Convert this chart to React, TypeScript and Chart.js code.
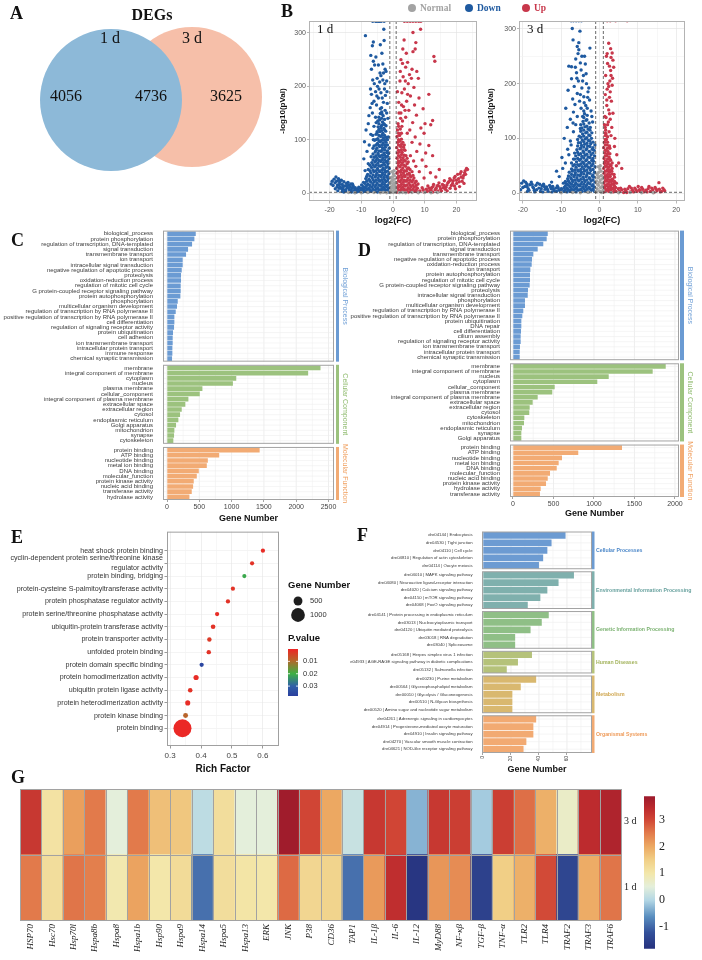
import React, { useEffect, useRef } from "react";
import { Chart, registerables } from "chart.js";

Chart.register(...registerables);

const SANS = '"Liberation Sans", Arial, Helvetica, sans-serif';
const SERIF = '"Liberation Serif", "Times New Roman", Times, serif';
Chart.defaults.font.family = SANS;

/* ======================= DATA ======================= */
// A – Venn
const vennSets = ["1 d", "3 d"];
const vennCounts = [4056, 4736, 3625]; // only 1 d, shared, only 3 d

// B – volcano plots  [log2(FC), -log10(pVal)]
const volcanoClasses = ["Normal", "Down", "Up"];
const volcanoDays = ["1 d", "3 d"];
const fcCut = 1;
const pCut = 0.05;

const v1Normal = [[-0.9,2],[-0.6,6],[-0.3,10],[0,3],[0.3,8],[0.6,14],[0.9,4],[-0.8,18],[-0.4,22],[0.2,18],[0.5,26],[-0.2,30],[0.1,36],[-0.6,28],[0.8,20],[0.4,33],[-0.5,12],[0.7,9],[0,14],[-0.1,24],[-10,0.5],[-8,1],[-6,0.8],[-4,0.4],[-3,1.1],[-2,0.6],[2,0.7],[3,1],[4,0.3],[6,0.9],[8,0.5],[10,1],[12,0.4],[-12,0.6],[0.3,42],[-0.3,40],[0.6,2],[-0.7,1],[0.1,1],[14,0.8],[-14,0.9]];
const v1Down = [
  [-1.3,2],[-1.4,9],[-1.2,18],[-1.5,27],[-1.3,36],[-1.2,46],[-1.6,55],[-1.3,64],[-1.4,74],[-1.2,84],
  [-2.2,4],[-2.1,12],[-2.3,21],[-2,30],[-2.4,39],[-2.2,48],[-2.1,58],[-2.3,67],[-2,76],[-2.4,86],[-2.2,95],[-2.1,104],[-2.3,116],[-2.2,126],
  [-3.1,3],[-3,11],[-3.2,20],[-2.9,29],[-3.3,38],[-3.1,47],[-3,57],[-3.2,66],[-2.9,75],[-3.3,85],[-3.1,94],[-3,103],[-3.2,112],[-2.9,121],[-3.3,133],[-3.1,145],
  [-4,5],[-3.9,13],[-4.1,22],[-3.8,31],[-4.2,40],[-4,50],[-3.9,59],[-4.1,68],[-3.8,78],[-4.2,87],[-4,96],[-3.9,106],[-4.1,115],[-3.8,125],[-4.2,137],[-4,149],
  [-4.9,2],[-4.8,10],[-5,19],[-4.7,28],[-5.1,37],[-4.9,46],[-4.8,56],[-5,65],[-4.7,74],[-5.1,84],[-4.9,93],[-4.8,102],[-5,113],[-4.7,124],
  [-5.8,4],[-5.7,12],[-5.9,21],[-5.6,30],[-6,40],[-5.8,49],[-5.7,58],[-5.9,67],[-5.6,77],[-6,88],[-5.8,99],
  [-6.8,3],[-6.7,11],[-6.9,20],[-6.6,29],[-7,38],[-6.8,48],[-6.7,57],[-6.9,68],
  [-7.8,2],[-7.7,9],[-7.9,17],[-7.6,26],[-8,35],[-7.8,44],[-8.8,3],[-8.7,10],[-8.9,18],[-8.6,27],[-9.8,2],[-9.7,8],[-9.9,15],
  [-1.75,6],[-1.75,14],[-1.75,23],[-1.75,32],[-1.75,41],[-1.75,50],[-1.75,60],[-1.75,69],[-1.75,79],[-1.75,90],[-1.75,100],
  [-2.65,7],[-2.65,16],[-2.65,25],[-2.65,34],[-2.65,43],[-2.65,53],[-2.65,62],[-2.65,71],[-2.65,81],[-2.65,90],[-2.65,99],[-2.65,108],[-2.65,118],[-2.65,128],[-2.65,138],
  [-3.55,8],[-3.55,16],[-3.55,25],[-3.55,34],[-3.55,43],[-3.55,52],[-3.55,62],[-3.55,71],[-3.55,80],[-3.55,90],[-3.55,99],[-3.55,108],[-3.55,117],[-3.55,127],[-3.55,140],[-3.55,152],
  [-4.45,6],[-4.45,15],[-4.45,24],[-4.45,33],[-4.45,42],[-4.45,51],[-4.45,61],[-4.45,70],[-4.45,79],[-4.45,89],[-4.45,98],[-4.45,108],[-4.45,119],[-4.45,130],[-4.45,142],
  [-5.35,7],[-5.35,15],[-5.35,24],[-5.35,33],[-5.35,42],[-5.35,52],[-5.35,61],[-5.35,70],[-5.35,80],[-5.35,90],[-5.35,100],[-5.35,110],
  [-6.3,7],[-6.3,16],[-6.3,25],[-6.3,34],[-6.3,43],[-6.3,53],[-6.3,62],[-6.3,73],[-6.3,84],
  [-7.3,6],[-7.3,14],[-7.3,23],[-7.3,32],[-7.3,42],[-7.3,52],[-8.3,6],[-8.3,14],[-8.3,22],[-8.3,31],[-9.3,5],[-9.3,12],[-9.3,20],
  [-8.7,295],[-2.9,307],[-2.8,286],[-6.2,283],[-6.5,276],[-4,278],[-3.5,262],[-7,258],[-6.2,247],[-5.8,240],[-6.8,232],[-2.5,232],[-2.2,228],[-3.8,220],[-5,215],[-3.2,212],[-6.4,212],[-4.2,208],[-2.6,205],[-7.1,195],[-5.5,190],[-3.8,188],[-6.8,185],[-2.4,183],[-4.6,178],[-6,172],[-3,170],[-5.2,165],[-1.8,168],[-7.2,160],[-4,158],[-2.5,155],[-6.5,150],[-3.5,148],[-5.5,142],[-1.6,140],[-4.8,135],[-7.8,130],[-2.9,130],[-6,125],[-3.8,122],[-8.5,118],[-5,115],[-7,110],[-1.5,105],[-6.2,100],[-9,96],[-7.5,90],[-8.2,78],[-9.2,64],[-7.8,55],[-8.8,42],[-6.4,108],[-5.3,132],[-3.6,160],[-2,150],[-4.4,195],[-5.9,205],
  [-1.9,190],[-3.4,178],[-5.1,182],[-2.7,195],[-4.9,200],[-3,225],[-4.6,240],[-5.4,255],[-3.2,242],[-2,210],[-6.6,168],[-7.6,145],[-4.1,225],
  [-19.2,22],[-18.6,26],[-18,30],[-17.8,22],[-17.5,15],[-17.2,27],[-16.8,20],[-16.6,11],[-16.3,24],[-16,16],[-15.8,7],[-15.5,21],[-15.2,13],[-14.9,4],[-14.7,18],[-14.4,10],[-14,15],[-13.8,6],[-13.5,12],[-13.1,2],[-12.9,9],[-12.6,14],[-12.2,5],[-11.9,10],[-11.5,2],[-11.2,7],[-10.8,11],[-10.5,4],[-10.1,8],[-9.6,2],[-9.3,6],[-18.9,14],[-18.2,8],[-17.4,4],[-16,3],[-19.5,17],[-17,9],[-15.5,2],[-13.3,17],[-12,1],
  [-18.3,19],[-17.6,12],[-16.9,16],[-16.2,8],[-15.7,12],[-15,6],[-14.5,13],[-13.9,9],[-13.2,5],[-12.5,11],[-11.8,6],[-11,3],[-10.3,9],[-9.9,5],[-17.1,24],[-14.2,20],[-12.8,17],
  [-6.4,322],[-5.5,322],[-4.6,322],[-3.7,322],[-2.8,322],[-5.1,322],[-4.2,322]
];
const v1Up = [
  [1.3,2],[1.4,10],[1.2,19],[1.5,28],[1.3,37],[1.2,46],[1.6,56],[1.3,65],[1.4,75],[1.2,85],[1.5,95],[1.3,106],[1.4,118],
  [2.2,4],[2.1,12],[2.3,21],[2,30],[2.4,39],[2.2,49],[2.1,58],[2.3,67],[2,77],[2.4,87],[2.2,97],[2.1,108],[2.3,120],
  [3.1,3],[3,11],[3.2,20],[2.9,29],[3.3,38],[3.1,47],[3,57],[3.2,66],[2.9,76],[3.3,86],[3.1,95],
  [4,5],[3.9,13],[4.1,22],[3.8,31],[4.2,41],[4,50],[3.9,60],[4.1,70],[3.8,80],
  [4.9,2],[4.8,10],[5,19],[4.7,28],[5.1,37],[4.9,47],[4.8,58],[5.8,4],[5.7,12],[5.9,21],[5.6,30],[6,40],
  [6.8,3],[6.7,11],[6.9,19],[6.6,28],[7.8,2],[7.7,9],[7.9,17],
  [1.75,6],[1.75,14],[1.75,23],[1.75,32],[1.75,41],[1.75,51],[1.75,60],[1.75,70],[1.75,80],[1.75,90],[1.75,100],[1.75,112],[1.75,125],
  [2.65,7],[2.65,16],[2.65,25],[2.65,34],[2.65,43],[2.65,53],[2.65,62],[2.65,72],[2.65,81],[2.65,91],[2.65,101],[2.65,112],
  [3.55,7],[3.55,15],[3.55,24],[3.55,33],[3.55,42],[3.55,52],[3.55,61],[3.55,71],[3.55,81],[3.55,90],
  [4.45,6],[4.45,15],[4.45,24],[4.45,35],[4.45,45],[4.45,55],[4.45,65],[5.35,7],[5.35,15],[5.35,24],[5.35,33],[5.35,44],
  [6.3,7],[6.3,15],[6.3,24],[6.3,33],[7.3,6],[7.3,14],[7.3,22],
  [8.7,307],[6.3,301],[3.5,287],[7.2,282],[7,270],[6.3,265],[4.2,262],[12.9,256],[13.2,247],[2.5,250],[3,243],[4,236],[6,232],[7.5,228],[5.2,222],[3.2,218],[8,215],[2.2,210],[4.8,205],[6.6,198],[3.6,195],[11.3,185],[2.8,188],[5.5,182],[8.2,178],[4.3,172],[1.8,170],[6.8,165],[3.3,162],[9.5,158],[5,155],[2.5,150],[7.4,146],[4,142],[12.5,136],[10.1,130],[11.9,128],[6.2,132],[3,135],[8.8,122],[5.3,118],[2.8,125],[9.8,112],[4.5,112],[7,105],[11.3,89],[6,95],[8.5,92],[12.5,70],[10.3,75],[7.5,78],[9.2,62],[5.5,70],[7.2,50],[10.4,50],[14.6,44],[8.3,40],[11.8,38],[6.5,60],[13.5,30],[9.8,28],
  [1.6,130],[2.4,140],[1.9,150],[3.8,155],[2.7,165],[4.6,185],[1.4,190],[3.9,210],[5.8,215],[2.3,228],[4.6,245],[3.1,270],
  [8.5,4],[9.2,10],[9.8,2],[10.5,7],[11,13],[11.6,4],[12.2,10],[12.8,16],[13.3,6],[13.9,13],[14.5,19],[15,8],[15.6,16],[16.2,23],[16.7,11],[17.3,19],[17.9,27],[18.4,14],[19,23],[19.6,31],[20.1,18],[20.7,27],[21.2,36],[21.8,22],[22.3,33],[22.8,42],[23.2,46],[22.6,38],[21.5,40],[20.4,35],[19.3,28],[18.2,24],[17,15],[15.9,10],[14.2,4],[12.5,2],[23.5,44],
  [9.5,6],[10.8,3],[11.4,9],[12,6],[12.6,12],[13.6,9],[14.2,14],[14.8,12],[15.3,4],[16,14],[16.5,7],[17.6,21],[18,9],[18.8,18],[19.4,13],[20,24],[20.9,21],[21.5,30],[22.1,28],[22.9,35],[17.1,4],[19.7,8],[21,12],[22.4,18],
  [3.6,322],[4.5,322],[5.4,322],[6.3,322],[7.2,322],[8.1,322],[8.8,322]
];
const v3Normal = [[-0.9,3],[-0.6,8],[-0.3,14],[0,4],[0.3,10],[0.6,18],[0.9,5],[-0.8,22],[-0.4,28],[0.2,24],[0.5,32],[-0.2,38],[0.1,44],[-0.6,34],[0.8,26],[0.4,40],[-0.5,16],[0.7,12],[0,20],[-0.1,30],[-10,0.5],[-7,1],[-5,0.6],[-3,1.1],[3,0.8],[5,0.4],[8,1],[11,0.6],[14,0.5],[0.2,50],[-0.3,48],[0.5,1],[-0.7,2]];
const v3Down = [
  [-1.3,3],[-1.4,11],[-1.2,20],[-1.5,29],[-1.3,38],[-1.2,48],[-1.6,58],[-1.3,68],[-1.4,78],[-1.2,88],
  [-2.1,5],[-2,13],[-2.2,22],[-1.9,31],[-2.3,41],[-2.1,50],[-2,60],[-2.2,70],[-1.9,80],[-2.3,90],[-2.1,100],[-2,110],
  [-2.9,2],[-2.8,10],[-3,19],[-2.7,28],[-3.1,37],[-2.9,47],[-2.8,56],[-3,66],[-2.7,76],[-3.1,86],[-2.9,96],[-2.8,106],[-3,117],[-2.7,128],
  [-3.7,4],[-3.6,12],[-3.8,21],[-3.5,30],[-3.9,40],[-3.7,49],[-3.6,59],[-3.8,69],[-3.5,79],[-3.9,89],[-3.7,99],[-3.6,110],[-3.8,121],[-3.5,133],[-3.9,145],
  [-4.5,3],[-4.4,11],[-4.6,20],[-4.3,29],[-4.7,38],[-4.5,48],[-4.4,57],[-4.6,67],[-4.3,77],[-4.7,87],[-4.5,97],[-4.4,108],[-4.6,119],[-4.3,131],
  [-5.3,5],[-5.2,13],[-5.4,22],[-5.1,31],[-5.5,40],[-5.3,50],[-5.2,60],[-5.4,70],[-5.1,81],[-5.5,92],[-5.3,104],
  [-6.1,2],[-6,10],[-6.2,19],[-5.9,28],[-6.3,37],[-6.1,47],[-6,57],[-6.2,68],[-5.9,79],
  [-6.9,4],[-6.8,12],[-7,21],[-6.7,30],[-7.1,40],[-6.9,50],[-6.8,62],[-7.7,3],[-7.6,11],[-7.8,19],[-7.5,28],[-7.9,38],
  [-8.5,2],[-8.4,9],[-8.6,17],[-8.3,26],[-9.3,3],[-9.2,10],[-9.4,18],[-10.1,2],[-10,8],
  [-1.7,7],[-1.7,15],[-1.7,24],[-1.7,33],[-1.7,43],[-1.7,53],[-1.7,63],[-1.7,73],[-1.7,83],[-1.7,93],
  [-2.5,8],[-2.5,17],[-2.5,26],[-2.5,36],[-2.5,45],[-2.5,55],[-2.5,65],[-2.5,75],[-2.5,85],[-2.5,95],[-2.5,105],[-2.5,115],
  [-3.3,7],[-3.3,15],[-3.3,24],[-3.3,33],[-3.3,42],[-3.3,52],[-3.3,61],[-3.3,71],[-3.3,81],[-3.3,91],[-3.3,101],[-3.3,111],[-3.3,122],[-3.3,134],
  [-4.1,8],[-4.1,16],[-4.1,25],[-4.1,35],[-4.1,44],[-4.1,54],[-4.1,64],[-4.1,74],[-4.1,84],[-4.1,94],[-4.1,104],[-4.1,115],[-4.1,126],[-4.1,138],[-4.1,150],
  [-4.9,7],[-4.9,16],[-4.9,25],[-4.9,34],[-4.9,43],[-4.9,53],[-4.9,62],[-4.9,72],[-4.9,82],[-4.9,92],[-4.9,102],[-4.9,113],[-4.9,125],
  [-5.7,6],[-5.7,15],[-5.7,24],[-5.7,33],[-5.7,42],[-5.7,52],[-5.7,63],[-5.7,74],[-5.7,86],[-5.7,98],
  [-6.5,7],[-6.5,15],[-6.5,24],[-6.5,33],[-6.5,42],[-6.5,52],[-6.5,62],[-6.5,73],
  [-7.3,7],[-7.3,16],[-7.3,25],[-7.3,34],[-7.3,44],[-7.3,55],[-8.1,6],[-8.1,14],[-8.1,22],[-8.1,31],[-8.9,6],[-8.9,13],[-8.9,21],
  [-7.1,301],[-5.1,296],[-6.9,280],[-5.4,275],[-5.4,262],[-5.6,255],[-6.2,245],[-5,238],[-3.7,236],[-8,232],[-7.3,231],[-4.8,225],[-6,220],[-4.2,215],[-7.3,209],[-5.5,205],[-3.4,200],[-6.6,195],[-4.6,192],[-8.2,188],[-3,185],[-5.8,182],[-4.1,176],[-7,172],[-2.6,170],[-5.2,168],[-6.4,162],[-3.6,160],[-8.8,155],[-4.8,155],[-2.2,150],[-6.8,148],[-5.8,140],[-3.2,142],[-7.6,135],[-1.8,130],[-8.4,120],[-6.8,112],[-9.2,100],[-7.6,95],[-8.3,80],[-9.8,65],[-8.9,55],[-11.2,40],[-10.5,30],[-9.6,45],[-12.5,20],[-2.5,265],[-3.9,250],[-4.4,140],[-6.2,125],[-5,118],[-7.4,88],[-2.4,120],[-8,70],
  [-4,165],[-3.1,175],[-5,180],[-2.8,192],[-4.4,205],[-5.9,210],[-3.5,218],[-6.3,230],[-4.6,250],[-5.8,268],[-3.2,155],[-2,140],[-6.9,128],
  [-20.3,18],[-19.8,22],[-19.5,12],[-19,17],[-18.6,8],[-18.2,15],[-17.8,20],[-17.4,11],[-17,5],[-16.6,14],[-16.2,18],[-15.8,9],[-15.4,3],[-15,13],[-14.6,16],[-14.2,7],[-13.8,11],[-13.4,3],[-13,14],[-12.6,8],[-12.2,12],[-11.8,4],[-11.4,9],[-11,13],[-10.6,6],[-18.8,3],[-16.9,2],[-14.8,2],[-12.4,2],[-20.6,6],[-21,13],
  [-20,10],[-19.3,20],[-18.9,12],[-18.4,5],[-17.6,16],[-17.2,9],[-16.4,6],[-15.6,16],[-15.2,8],[-14.4,12],[-13.6,7],[-12.8,11],[-12,7],[-11.2,3],[-10.8,10],[-10.3,4],[-9.8,7],
  [-7.4,315],[-6.8,315],[-6.1,315],[-5.4,315],[-4.7,315]
];
const v3Up = [
  [1.2,2],[1.3,10],[1.1,18],[1.4,27],[1.2,36],[1.1,45],[1.3,54],[1.2,63],[1.4,73],[1.1,83],[1.3,93],
  [1.8,5],[1.7,13],[1.9,22],[1.6,31],[2,40],[1.8,49],[1.7,58],[1.9,68],[1.6,78],[2,88],[1.8,98],[1.7,108],
  [2.4,3],[2.3,11],[2.5,20],[2.2,29],[2.6,38],[2.4,47],[2.3,57],[2.5,66],[2.2,76],[2.6,86],
  [3,4],[2.9,12],[3.1,21],[2.8,30],[3.2,40],[3,50],[2.9,60],[3.6,2],[3.5,9],[3.7,17],[3.4,25],[3.8,34],[4.3,3],[4.2,10],[4.4,18],[5,2],[4.9,8],
  [1.5,6],[1.5,14],[1.5,22],[1.5,31],[1.5,40],[1.5,49],[1.5,58],[1.5,68],[1.5,78],[1.5,88],[1.5,98],[1.5,110],[1.5,120],
  [2.1,7],[2.1,16],[2.1,25],[2.1,34],[2.1,43],[2.1,53],[2.1,62],[2.1,72],[2.1,82],[2.1,93],[2.1,103],
  [2.7,7],[2.7,15],[2.7,24],[2.7,33],[2.7,42],[2.7,52],[2.7,62],[2.7,72],[2.7,82],
  [3.3,8],[3.3,16],[3.3,25],[3.3,35],[3.3,45],[3.3,55],[3.9,6],[3.9,13],[3.9,21],[3.9,29],
  [2.4,274],[2.9,264],[3.3,256],[1.8,250],[3.5,243],[2.1,237],[3.7,230],[2.9,224],[1.6,215],[3.4,210],[2.7,205],[2.2,200],[3.3,197],[2,190],[1.5,180],[2.6,175],[3.1,168],[1.9,160],[2.4,152],[3.5,146],[1.4,140],[2.8,135],[2.1,125],[3.2,120],[1.6,115],[4,100],[3.9,85],[4.5,70],[5,55],[5.8,45],[4.4,50],[2.5,112],[3,105],[1.5,105],
  [1.3,125],[2.3,130],[1.7,138],[2.6,145],[1.9,170],[2.8,185],[2.4,195],[3,215],[2.6,232],[2,255],[3,248],
  [5.2,3],[5.8,6],[6.3,1],[6.9,4],[7.4,8],[8,2],[8.6,5],[9.2,9],[9.8,3],[10.4,6],[11,10],[11.5,2],[12.1,5],[12.7,8],[13.3,3],[13.9,6],[14.5,10],[15,4],[15.5,19],[15.6,7],[16.2,3],[16.8,6],[7.8,12],[10.1,12],[12.9,12],[14.2,1],
  [5.5,9],[6.6,7],[7.1,1],[8.3,9],[8.9,2],[9.5,6],[10.7,3],[11.3,7],[12.4,2],[13.6,9],[14.8,7],[15.9,2],[16.5,9],[17,4],
  [2,315],[2.8,315],[4.2,315],[7.2,315]
];

// C – GO terms, 1 d
const goCategories = ["Biological Process", "Cellular Component", "Molecular Function"];
const goBP1Terms = ["biological_process","protein phosphorylation","regulation of transcription, DNA-templated","signal transduction","transmembrane transport","ion transport","intracellular signal transduction","negative regulation of apoptotic process","proteolysis","oxidation-reduction process","regulation of mitotic cell cycle","G protein-coupled receptor signaling pathway","protein autophosphorylation","phosphorylation","multicellular organism development","regulation of transcription by RNA polymerase II","positive regulation of transcription by RNA polymerase II","cell differentiation","regulation of signaling receptor activity","protein ubiquitination","cell adhesion","ion transmembrane transport","intracellular protein transport","immune response","chemical synaptic transmission"];
const goBP1Counts = [445,424,388,326,295,243,243,228,217,217,212,212,207,166,155,135,114,114,109,93,88,88,83,83,78];
const goCC1Terms = ["membrane","integral component of membrane","cytoplasm","nucleus","plasma membrane","cellular_component","integral component of plasma membrane","extracellular space","extracellular region","cytosol","endoplasmic reticulum","Golgi apparatus","mitochondrion","synapse","cytoskeleton"];
const goCC1Counts = [2376,2185,1072,1020,548,507,331,284,228,202,176,140,114,109,98];
const goMF1Terms = ["protein binding","ATP binding","nucleotide binding","metal ion binding","DNA binding","molecular_function","protein kinase activity","nucleic acid binding","transferase activity","hydrolase activity"];
const goMF1Counts = [1434,808,632,616,492,461,414,404,383,347];

// D – GO terms, 3 d
const goBP3Terms = ["biological_process","protein phosphorylation","regulation of transcription, DNA-templated","signal transduction","transmembrane transport","negative regulation of apoptotic process","oxidation-reduction process","ion transport","protein autophosphorylation","regulation of mitotic cell cycle","G protein-coupled receptor signaling pathway","proteolysis","intracellular signal transduction","phosphorylation","multicellular organism development","regulation of transcription by RNA polymerase II","positive regulation of transcription by RNA polymerase II","protein ubiquitination","DNA repair","cell differentiation","cilium assembly","regulation of signaling receptor activity","ion transmembrane transport","intracellular protein transport","chemical synaptic transmission"];
const goBP3Counts = [429,416,374,305,251,235,231,214,210,210,206,185,182,148,148,127,115,103,103,99,95,95,86,83,83];
const goCC3Terms = ["membrane","integral component of membrane","nucleus","cytoplasm","cellular_component","plasma membrane","integral component of plasma membrane","extracellular space","extracellular region","cytosol","cytoskeleton","mitochondrion","endoplasmic reticulum","synapse","Golgi apparatus"];
const goCC3Counts = [1886,1725,1182,1041,515,485,305,243,206,201,140,136,111,103,103];
const goMF3Terms = ["protein binding","ATP binding","nucleotide binding","metal ion binding","DNA binding","molecular_function","nucleic acid binding","protein kinase activity","hydrolase activity","transferase activity"];
const goMF3Counts = [1346,806,605,564,540,457,429,408,342,333];

// E – enrichment dot plot
const richTerms = ["heat shock protein binding","cyclin-dependent protein serine/threonine kinase\nregulator activity","protein binding, bridging","protein-cysteine S-palmitoyltransferase activity","protein phosphatase regulator activity","protein serine/threonine phosphatase activity","ubiquitin-protein transferase activity","protein transporter activity","unfolded protein binding","protein domain specific binding","protein homodimerization activity","ubiquitin protein ligase activity","protein heterodimerization activity","protein kinase binding","protein binding"];
const richFactor = [0.6,0.565,0.54,0.503,0.487,0.452,0.439,0.427,0.425,0.402,0.384,0.365,0.357,0.35,0.34];
const richPValue = [0.001,0.002,0.021,0.002,0.002,0.001,0.002,0.003,0.002,0.036,0.001,0.002,0.001,0.009,0.0005];
const richGenes = [24,17,19,22,31,28,65,45,40,28,120,60,110,95,1434];
const richSizeBreaks = [500, 1000];
const richPBreaks = [0.01, 0.02, 0.03];
const richXTicks = [0.3, 0.4, 0.5, 0.6];

// F – KEGG
const keggClasses = ["Cellular Processes","Environmental Information Processing","Genetic Information Processing","Human Diseases","Metabolism","Organismal Systems"];
const keggCellTerms = ["dre04144 | Endocytosis","dre04530 | Tight junction","dre04110 | Cell cycle","dre04810 | Regulation of actin cytoskeleton","dre04114 | Oocyte meiosis"];
const keggCellCounts = [59,49,46,43,40];
const keggEnvTerms = ["dre04010 | MAPK signaling pathway","dre04080 | Neuroactive ligand-receptor interaction","dre04020 | Calcium signaling pathway","dre04150 | mTOR signaling pathway","dre04068 | FoxO signaling pathway"];
const keggEnvCounts = [65,54,46,41,32];
const keggGenTerms = ["dre04141 | Protein processing in endoplasmic reticulum","dre03013 | Nucleocytoplasmic transport","dre04120 | Ubiquitin mediated proteolysis","dre03018 | RNA degradation","dre03040 | Spliceosome"];
const keggGenCounts = [47,42,34,23,23];
const keggHumTerms = ["dre05168 | Herpes simplex virus 1 infection","dre04933 | AGE-RAGE signaling pathway in diabetic complications","dre05132 | Salmonella infection"];
const keggHumCounts = [35,25,17];
const keggMetTerms = ["dre00230 | Purine metabolism","dre00564 | Glycerophospholipid metabolism","dre00010 | Glycolysis / Gluconeogenesis","dre00510 | N-Glycan biosynthesis","dre00520 | Amino sugar and nucleotide sugar metabolism"];
const keggMetCounts = [38,27,21,21,21];
const keggOrgTerms = ["dre04261 | Adrenergic signaling in cardiomyocytes","dre04914 | Progesterone-mediated oocyte maturation","dre04910 | Insulin signaling pathway","dre04270 | Vascular smooth muscle contraction","dre04621 | NOD-like receptor signaling pathway"];
const keggOrgCounts = [38,36,36,31,29];

// G – heatmap
const heatGenes = ["HSP70","Hsc70","Hsp70l","Hspa8b","Hspa8","Hspa1b","Hsp90","Hspa9","Hspa14","Hspa5","Hspa13","ERK","JNK","P38","CD36","TAP1","IL-1β","IL-6","IL-12","MyD88","NF-κβ","TGF-β","TNF-α","TLR2","TLR4","TRAF2","TRAF3","TRAF6"];
const heatRows = ["3 d", "1 d"];
const heat3d = [3.2,1.1,2.1,2.5,0.5,2.5,1.7,1.6,0.1,1.2,0.5,0.5,3.8,3.0,2.0,0.2,3.2,3.0,-0.3,3.2,3.1,-0.1,3.1,2.6,1.9,0.7,3.4,3.6];
const heat1d = [2.5,1.2,2.55,2.45,0.95,2.05,1.0,1.25,-0.9,1.2,1.05,1.0,2.65,1.35,1.4,-0.9,2.15,3.35,-1.7,2.2,2.3,-1.5,1.5,1.9,2.95,-1.4,1.95,2.55];
const heatTicks = [-1, 0, 1, 2, 3];

/* ======================= STYLE ======================= */
const heatMin = -1.8, heatMax = 3.86;
const heatStops: [number, string][] = [[-1.8,"#26317d"],[-1.2,"#33509a"],[-0.6,"#5a8fc0"],[0,"#b3d7e5"],[0.5,"#e4efdb"],[1.0,"#f3e7aa"],[1.5,"#f1cf86"],[2.0,"#eca862"],[2.5,"#e27a4b"],[3.0,"#d04535"],[3.4,"#bd2b2e"],[3.86,"#9c1a2c"]];
const pMax = 0.038;
const pStops: [number, string][] = [[0,"#ee2526"],[0.009,"#b8642a"],[0.02,"#3cb043"],[0.03,"#2f5fa8"],[0.038,"#2a3f9e"]];
const volcColors = ["#a3a3a3", "#1f5aa0", "#c8374b"];
const goColors = [{ bar: "#6b9bd3", text: "#6f9fd6" }, { bar: "#9cc27e", text: "#8fbb6e" }, { bar: "#f2ab74", text: "#f0a060" }];
const keggColors = [{ bar: "#6c9bd2", text: "#4d88c9" }, { bar: "#7fb0ad", text: "#6aa3a0" }, { bar: "#8fbf86", text: "#7db373" }, { bar: "#b5c27a", text: "#a3b35c" }, { bar: "#d9b86f", text: "#cfa64f" }, { bar: "#f2aa72", text: "#ee9a58" }];

function hexRgb(h: string) { return [1, 3, 5].map((i) => parseInt(h.slice(i, i + 2), 16)); }
function interp(stops: [number, string][], v: number): string {
  if (v <= stops[0][0]) return stops[0][1];
  const last = stops[stops.length - 1];
  if (v >= last[0]) return last[1];
  for (let i = 0; i < stops.length - 1; i++) {
    const a = stops[i], b = stops[i + 1];
    if (v >= a[0] && v <= b[0]) {
      const t = (v - a[0]) / (b[0] - a[0]);
      const A = hexRgb(a[1]), B = hexRgb(b[1]);
      const c = A.map((x, k) => Math.round(x + (B[k] - x) * t));
      return `rgb(${c[0]},${c[1]},${c[2]})`;
    }
  }
  return last[1];
}
const heatColor = (v: number) => interp(heatStops, v);
const pColor = (v: number) => interp(pStops, v);
const geneRadius = (n: number) => 2 + (n / 1434) * 7;

const baseOpts = () => ({
  animation: false, responsive: false, maintainAspectRatio: false, devicePixelRatio: 1, events: [],
  plugins: { legend: { display: false }, tooltip: { enabled: false }, title: { display: false } },
});

/* ======================= A: Venn ======================= */
function buildVenn() {
  const geom = [{ x: 111, y: 100, r: 71 }, { x: 192, y: 97, r: 70 }];
  const colors = ["rgb(141,185,216)", "rgba(240,152,116,0.62)"];
  const textPos = { sets: [[110, 39], [192, 39]], counts: [[66, 97], [151, 97], [226, 97]] };
  return {
    type: "bubble",
    data: { datasets: vennSets.map((s, i) => ({ label: s, data: [geom[i]], backgroundColor: colors[i], borderWidth: 0, clip: false })) },
    options: {
      ...baseOpts(),
      layout: { padding: 0, autoPadding: false },
      scales: { x: { type: "linear", display: false, min: 0, max: 280 }, y: { type: "linear", display: false, min: 0, max: 200, reverse: true } },
    },
    plugins: [{
      id: "vennText",
      afterDatasetsDraw(chart: any) {
        const { ctx, scales: { x, y } } = chart;
        ctx.save();
        ctx.fillStyle = "#111"; ctx.font = `16px ${SERIF}`; ctx.textAlign = "center"; ctx.textBaseline = "middle";
        vennSets.forEach((s, i) => ctx.fillText(s, x.getPixelForValue(textPos.sets[i][0]), y.getPixelForValue(textPos.sets[i][1])));
        vennCounts.forEach((c, i) => ctx.fillText(String(c), x.getPixelForValue(textPos.counts[i][0]), y.getPixelForValue(textPos.counts[i][1])));
        ctx.restore();
      },
    }],
  };
}

/* ======================= B: volcano ======================= */
const volcXGrid = [-25, -20, -15, -10, -5, 0, 5, 10, 15, 20, 25];
const volcYGrid = [0, 50, 100, 150, 200, 250, 300];
function buildVolcano(k: number) {
  const sets = [[v1Normal, v1Down, v1Up], [v3Normal, v3Down, v3Up]][k];
  const lim = [{ x: [-26.5, 26.5], y: [-15, 322.5], padRight: 3, titlePad: 8 }, { x: [-21, 22.3], y: [-14.6, 314.6], padRight: 17, titlePad: 6 }][k];
  const majorX = (v: number) => v % 10 === 0;
  const majorY = (v: number) => v % 100 === 0;
  return {
    type: "scatter",
    data: { datasets: sets.map((pts, j) => ({ label: volcanoClasses[j], data: pts.map((p) => ({ x: p[0], y: p[1] })), backgroundColor: volcColors[j], pointRadius: 1.7, borderWidth: 0 })) },
    options: {
      ...baseOpts(),
      layout: { padding: { left: 0, top: 11, right: lim.padRight, bottom: 0 }, autoPadding: false },
      scales: {
        x: {
          type: "linear", min: lim.x[0], max: lim.x[1],
          afterBuildTicks: (s: any) => { s.ticks = volcXGrid.filter((v) => v >= s.min && v <= s.max).map((v) => ({ value: v })); },
          afterFit: (s: any) => { s.height = 25; },
          ticks: { callback: (v: number) => (majorX(v) ? String(v) : ""), font: { size: 7 }, color: "#555", padding: 2, maxRotation: 0, autoSkip: false },
          grid: { color: (c: any) => (c.tick && majorX(c.tick.value) ? "#e0e0e0" : "#f1f1f1"), tickColor: (c: any) => (c.tick && majorX(c.tick.value) ? "#888" : "rgba(0,0,0,0)"), tickLength: 2.5, lineWidth: 0.6 },
          border: { display: false },
          title: { display: true, text: "log2(FC)", font: { size: 9, weight: "bold" }, color: "#111", padding: 0 },
        },
        y: {
          type: "linear", min: lim.y[0], max: lim.y[1],
          afterBuildTicks: (s: any) => { s.ticks = volcYGrid.map((v) => ({ value: v })); },
          afterFit: (s: any) => { s.width = 39; },
          ticks: { callback: (v: number) => (majorY(v) ? String(v) : ""), font: { size: 7 }, color: "#555", padding: 1, autoSkip: false },
          grid: { color: (c: any) => (c.tick && majorY(c.tick.value) ? "#e0e0e0" : "#f1f1f1"), tickColor: (c: any) => (c.tick && majorY(c.tick.value) ? "#888" : "rgba(0,0,0,0)"), tickLength: 2, lineWidth: 0.6 },
          border: { display: false },
          title: { display: true, text: "-log10(pVal)", font: { size: 8, weight: "bold" }, color: "#111", padding: { top: lim.titlePad, bottom: 0 } },
        },
      },
    },
    plugins: [{
      id: "volcDeco",
      afterDatasetsDraw(chart: any) {
        const { ctx, chartArea: ca, scales: { x, y } } = chart;
        ctx.save();
        ctx.setLineDash([3, 2]); ctx.strokeStyle = "#444"; ctx.lineWidth = 0.8;
        [-fcCut, fcCut].forEach((v) => { const px = x.getPixelForValue(v); ctx.beginPath(); ctx.moveTo(px, ca.top); ctx.lineTo(px, ca.bottom); ctx.stroke(); });
        const py = y.getPixelForValue(-Math.log10(pCut));
        ctx.beginPath(); ctx.moveTo(ca.left, py); ctx.lineTo(ca.right, py); ctx.stroke();
        ctx.setLineDash([]);
        ctx.strokeStyle = "#b3b3b3"; ctx.lineWidth = 1;
        ctx.strokeRect(ca.left + 0.5, ca.top + 0.5, ca.right - ca.left - 1, ca.bottom - ca.top - 1);
        ctx.fillStyle = "#111"; ctx.font = `13px ${SERIF}`; ctx.textAlign = "left"; ctx.textBaseline = "middle";
        ctx.fillText(volcanoDays[k], ca.left + 8, ca.top + 9);
        ctx.restore();
      },
    }],
  };
}

/* ======================= faceted horizontal bars (C, D, F) ======================= */
function facetBarConfig(o: any) {
  const pos: number[] = [], labels: string[] = [], vals: number[] = [], cols: string[] = [];
  const ranges: number[][] = [];
  let p = 0;
  o.facets.forEach((f: any) => {
    const start = p;
    f.terms.forEach((t: string, j: number) => { pos.push(p + j); labels.push(t); vals.push(f.values[j]); cols.push(f.color); });
    const end = p + f.terms.length - 1;
    ranges.push([start - o.expand, end + o.expand]);
    p = end + 2 * o.expand + o.gap;
  });
  const yMin = ranges[0][0];
  const yMax = ranges[ranges.length - 1][1];
  const isMajor = (v: number) => o.xTicks.indexOf(v) >= 0;
  const plugin = {
    id: "facets",
    beforeDatasetsDraw(chart: any) {
      const { ctx, chartArea: ca, scales } = chart;
      const x = scales.x, y = scales.y;
      ctx.save();
      ctx.lineWidth = 0.6;
      ranges.forEach((r) => {
        const t = y.getPixelForValue(r[0]), b = y.getPixelForValue(r[1]);
        o.xGrid.forEach((v: number) => {
          const px = x.getPixelForValue(v);
          ctx.strokeStyle = isMajor(v) ? "#e2e2e2" : "#f0f0f0";
          ctx.beginPath(); ctx.moveTo(px, t); ctx.lineTo(px, b); ctx.stroke();
        });
      });
      ctx.strokeStyle = "#eeeeee";
      pos.forEach((v) => { const py = y.getPixelForValue(v); ctx.beginPath(); ctx.moveTo(ca.left, py); ctx.lineTo(ca.right, py); ctx.stroke(); });
      ctx.restore();
    },
    afterDatasetsDraw(chart: any) {
      const { ctx, chartArea: ca, scales } = chart;
      const y = scales.y;
      ctx.save();
      ranges.forEach((r, i) => {
        const f = o.facets[i];
        const t = y.getPixelForValue(r[0]), b = y.getPixelForValue(r[1]);
        ctx.strokeStyle = "#a3a3a3"; ctx.lineWidth = 1;
        ctx.strokeRect(ca.left + 0.5, t + 0.5, ca.right - ca.left - 1, b - t - 1);
        ctx.fillStyle = f.color;
        ctx.fillRect(ca.right + o.stripGap, t, o.stripWidth, b - t);
        ctx.fillStyle = f.textColor;
        ctx.font = `${o.stripBold ? "bold " : ""}${o.stripFont}px ${SANS}`;
        ctx.textBaseline = "middle";
        if (o.stripVertical) {
          ctx.save(); ctx.translate(ca.right + o.stripTextOffset, (t + b) / 2); ctx.rotate(Math.PI / 2);
          ctx.textAlign = "center"; ctx.fillText(f.name, 0, 0); ctx.restore();
        } else {
          ctx.textAlign = "left"; ctx.fillText(f.name, ca.right + o.stripTextOffset, (t + b) / 2);
        }
      });
      ctx.restore();
    },
  };
  return {
    type: "bar",
    data: { datasets: [{ data: pos.map((yv, i) => ({ x: vals[i], y: yv })), backgroundColor: cols, borderWidth: 0, barPercentage: 0.9, categoryPercentage: 1 }] },
    options: {
      ...baseOpts(),
      indexAxis: "y",
      layout: { padding: o.padding, autoPadding: false },
      scales: {
        y: {
          type: "linear", reverse: true, min: yMin, max: yMax, offset: false,
          afterBuildTicks: (s: any) => { s.ticks = pos.map((v) => ({ value: v })); },
          afterFit: (s: any) => { s.width = o.yWidth; },
          ticks: { autoSkip: false, callback: (_v: any, i: number) => labels[i], font: { size: o.labelFont }, color: "#3a3a3a", padding: o.labelPad },
          grid: { display: false }, border: { display: false },
        },
        x: {
          type: "linear", min: o.xMin, max: o.xMax,
          afterBuildTicks: (s: any) => { s.ticks = o.xTicks.map((v: number) => ({ value: v })); },
          afterFit: (s: any) => { s.height = o.xHeight; },
          ticks: { font: { size: o.tickFont }, color: "#444", padding: 1, minRotation: o.tickRot, maxRotation: o.tickRot, autoSkip: false, callback: (v: number) => String(v) },
          grid: { drawOnChartArea: false, tickLength: 2, color: "#666", lineWidth: 0.6 }, border: { display: false },
          title: { display: true, text: "Gene Number", font: { size: 9, weight: "bold" }, color: "#111", padding: 0 },
        },
      },
    },
    plugins: [plugin],
  };
}

function goFacets(terms: string[][], counts: number[][]) {
  return goCategories.map((name, i) => ({ name, terms: terms[i], values: counts[i], color: goColors[i].bar, textColor: goColors[i].text }));
}
function buildGO1() {
  return facetBarConfig({
    facets: goFacets([goBP1Terms, goCC1Terms, goMF1Terms], [goBP1Counts, goCC1Counts, goMF1Counts]),
    expand: 0.6, gap: 0.6, xMin: -62, xMax: 2585,
    xTicks: [0, 500, 1000, 1500, 2000, 2500], xGrid: [0, 250, 500, 750, 1000, 1250, 1500, 1750, 2000, 2250, 2500],
    padding: { left: 0, top: 4, right: 16, bottom: 0 }, yWidth: 163, xHeight: 24,
    labelFont: 6, labelPad: 2, tickFont: 7, tickRot: 0,
    stripGap: 2, stripWidth: 3, stripVertical: true, stripFont: 7, stripBold: false, stripTextOffset: 11,
  });
}
function buildGO3() {
  return facetBarConfig({
    facets: goFacets([goBP3Terms, goCC3Terms, goMF3Terms], [goBP3Counts, goCC3Counts, goMF3Counts]),
    expand: 0.6, gap: 0.6, xMin: -37, xMax: 2050,
    xTicks: [0, 500, 1000, 1500, 2000], xGrid: [0, 250, 500, 750, 1000, 1250, 1500, 1750, 2000],
    padding: { left: 0, top: 4, right: 23, bottom: 0 }, yWidth: 160, xHeight: 22,
    labelFont: 6, labelPad: 2, tickFont: 7, tickRot: 0,
    stripGap: 1, stripWidth: 4, stripVertical: true, stripFont: 7, stripBold: false, stripTextOffset: 11,
  });
}
function buildKegg() {
  const terms = [keggCellTerms, keggEnvTerms, keggGenTerms, keggHumTerms, keggMetTerms, keggOrgTerms];
  const counts = [keggCellCounts, keggEnvCounts, keggGenCounts, keggHumCounts, keggMetCounts, keggOrgCounts];
  return facetBarConfig({
    facets: keggClasses.map((name, i) => ({ name, terms: terms[i], values: counts[i], color: keggColors[i].bar, textColor: keggColors[i].text })),
    expand: 0.5, gap: 0.27, xMin: -0.7, xMax: 77.9,
    xTicks: [0, 20, 40, 60], xGrid: [0, 10, 20, 30, 40, 50, 60, 70],
    padding: { left: 0, top: 6.5, right: 110, bottom: 0 }, yWidth: 132, xHeight: 22,
    labelFont: 4.25, labelPad: 1.5, tickFont: 4.8, tickRot: 90,
    stripGap: 0, stripWidth: 2.5, stripVertical: false, stripFont: 5.2, stripBold: true, stripTextOffset: 4,
  });
}

/* ======================= E: dot plot ======================= */
function buildRich() {
  const xGrid = [0.3, 0.35, 0.4, 0.45, 0.5, 0.55, 0.6, 0.65];
  const isMajor = (v: number) => richXTicks.indexOf(v) >= 0;
  return {
    type: "bubble",
    data: { datasets: [{ data: richTerms.map((_, i) => ({ x: richFactor[i], y: i + 1, r: geneRadius(richGenes[i]) })), backgroundColor: richPValue.map(pColor), borderWidth: 0 }] },
    options: {
      ...baseOpts(),
      layout: { padding: { left: 0, top: 6, right: 71, bottom: 0 }, autoPadding: false },
      scales: {
        y: {
          type: "linear", reverse: true, min: -0.5, max: 16.4,
          afterBuildTicks: (s: any) => { s.ticks = richTerms.map((_, i) => ({ value: i + 1 })); },
          afterFit: (s: any) => { s.width = 167; },
          ticks: { autoSkip: false, callback: (_v: any, i: number) => (richTerms[i].indexOf("\n") >= 0 ? richTerms[i].split("\n") : richTerms[i]), font: { size: 7.1, lineHeight: 1.45 }, color: "#333", padding: 1.5 },
          grid: { color: "#ececec", tickColor: "#555", tickLength: 2.5, lineWidth: 0.6 }, border: { display: false },
        },
        x: {
          type: "linear", min: 0.29, max: 0.652,
          afterBuildTicks: (s: any) => { s.ticks = xGrid.map((v) => ({ value: v })); },
          afterFit: (s: any) => { s.height = 29; },
          ticks: { callback: (v: number) => (isMajor(v) ? String(v) : ""), font: { size: 8 }, color: "#444", padding: 2, maxRotation: 0, autoSkip: false },
          grid: { color: (c: any) => (c.tick && isMajor(c.tick.value) ? "#e4e4e4" : "#f2f2f2"), tickColor: (c: any) => (c.tick && isMajor(c.tick.value) ? "#555" : "rgba(0,0,0,0)"), tickLength: 2.5, lineWidth: 0.6 },
          border: { display: false },
          title: { display: true, text: "Rich Factor", font: { size: 10, weight: "bold" }, color: "#111", padding: 0 },
        },
      },
    },
    plugins: [{
      id: "richLegend",
      afterDraw(chart: any) {
        const { ctx, chartArea: ca } = chart;
        ctx.save();
        ctx.strokeStyle = "#a0a0a0"; ctx.lineWidth = 1;
        ctx.strokeRect(ca.left + 0.5, ca.top + 0.5, ca.right - ca.left - 1, ca.bottom - ca.top - 1);
        const lx = ca.right + 9;
        ctx.textAlign = "left"; ctx.textBaseline = "middle";
        ctx.fillStyle = "#111"; ctx.font = `bold 9.5px ${SANS}`;
        ctx.fillText("Gene Number", lx, 60);
        richSizeBreaks.forEach((v, i) => {
          const cy = [76, 90][i];
          ctx.fillStyle = "#1e1e1e"; ctx.beginPath(); ctx.arc(lx + 10, cy, geneRadius(v), 0, Math.PI * 2); ctx.fill();
          ctx.fillStyle = "#333"; ctx.font = `7.5px ${SANS}`; ctx.fillText(String(v), lx + 22, cy);
        });
        ctx.fillStyle = "#111"; ctx.font = `bold 9.5px ${SANS}`;
        ctx.fillText("P.value", lx, 113);
        const top = 124, h = 47;
        const g = ctx.createLinearGradient(0, top, 0, top + h);
        pStops.forEach((s) => g.addColorStop(s[0] / pMax, s[1]));
        ctx.fillStyle = g; ctx.fillRect(lx, top, 10, h);
        richPBreaks.forEach((v) => {
          const yy = top + (v / pMax) * h;
          ctx.strokeStyle = "#fff"; ctx.lineWidth = 0.8;
          ctx.beginPath(); ctx.moveTo(lx, yy); ctx.lineTo(lx + 2, yy); ctx.moveTo(lx + 8, yy); ctx.lineTo(lx + 10, yy); ctx.stroke();
          ctx.fillStyle = "#333"; ctx.font = `7.5px ${SANS}`; ctx.fillText(String(v), lx + 15, yy);
        });
        ctx.restore();
      },
    }],
  };
}

/* ======================= G: heatmap ======================= */
function buildHeat() {
  const rowsData = [heat1d, heat3d];
  const rowNames = [heatRows[1], heatRows[0]];
  return {
    type: "bar",
    data: {
      labels: heatGenes,
      datasets: rowsData.map((vals, r) => ({ label: rowNames[r], data: heatGenes.map(() => 1), backgroundColor: vals.map(heatColor), borderWidth: 0, barPercentage: 1, categoryPercentage: 1 })),
    },
    options: {
      ...baseOpts(),
      layout: { padding: { left: 20, top: 9, right: 0, bottom: 0 }, autoPadding: false },
      scales: {
        x: {
          stacked: true,
          afterFit: (s: any) => { s.height = 40; },
          ticks: { autoSkip: false, minRotation: 90, maxRotation: 90, padding: 4, font: { family: SERIF, style: "italic", size: 9 }, color: "#222" },
          grid: { display: false, drawTicks: false }, border: { display: false },
        },
        y: {
          stacked: true, position: "right", min: 0, max: 2,
          afterBuildTicks: (s: any) => { s.ticks = [{ value: 0.5 }, { value: 1.5 }]; },
          afterFit: (s: any) => { s.width = 19; },
          ticks: { callback: (v: number) => (v > 1 ? heatRows[0] : heatRows[1]), font: { family: SERIF, size: 10 }, color: "#222", padding: 3 },
          grid: { display: false, drawTicks: false }, border: { display: false },
        },
      },
    },
    plugins: [{
      id: "heatGrid",
      afterDatasetsDraw(chart: any) {
        const { ctx, chartArea: ca } = chart;
        const n = heatGenes.length;
        const w = (ca.right - ca.left) / n;
        ctx.save();
        ctx.strokeStyle = "#a2a2a2"; ctx.lineWidth = 1;
        for (let i = 0; i <= n; i++) { const px = Math.round(ca.left + i * w) + 0.5; ctx.beginPath(); ctx.moveTo(px, ca.top); ctx.lineTo(px, ca.bottom); ctx.stroke(); }
        [0, 1, 2].forEach((v) => { const py = Math.round(chart.scales.y.getPixelForValue(v)) + 0.5; ctx.beginPath(); ctx.moveTo(ca.left, py); ctx.lineTo(ca.right, py); ctx.stroke(); });
        ctx.restore();
      },
    }],
  };
}
function buildHeatBar() {
  return {
    type: "bar",
    data: {
      labels: [""],
      datasets: [{
        data: [[heatMin, heatMax]], borderWidth: 0, barPercentage: 1, categoryPercentage: 1,
        backgroundColor: (c: any) => {
          const ch = c.chart;
          if (!ch.chartArea) return "rgba(0,0,0,0)";
          const ys = ch.scales.y;
          const g = ch.ctx.createLinearGradient(0, ys.getPixelForValue(heatMin), 0, ys.getPixelForValue(heatMax));
          heatStops.forEach((s) => g.addColorStop((s[0] - heatMin) / (heatMax - heatMin), s[1]));
          return g;
        },
      }],
    },
    options: {
      ...baseOpts(),
      layout: { padding: { left: 4, top: 5, right: 0, bottom: 3 }, autoPadding: false },
      scales: {
        x: { display: false },
        y: {
          position: "right", min: heatMin, max: heatMax,
          afterBuildTicks: (s: any) => { s.ticks = heatTicks.map((v) => ({ value: v })); },
          afterFit: (s: any) => { s.width = 47; },
          ticks: { font: { family: SERIF, size: 12 }, color: "#222", padding: 4, callback: (v: number) => String(v) },
          grid: { display: false, drawTicks: false }, border: { display: false },
        },
      },
    },
  };
}

/* ======================= React ======================= */
function ChartBox({ left, top, width, height, build }: { left: number; top: number; width: number; height: number; build: () => any }) {
  const ref = useRef<HTMLCanvasElement | null>(null);
  useEffect(() => {
    const chart = new Chart(ref.current as HTMLCanvasElement, build());
    return () => chart.destroy();
  }, []);
  return <canvas ref={ref} width={width} height={height} style={{ position: "absolute", left, top, width, height, display: "block" }} />;
}

const letters: [string, number, number][] = [["A", 10, 4], ["B", 281, 2], ["C", 11, 231], ["D", 358, 241], ["E", 11, 528], ["F", 357, 526], ["G", 11, 768]];
const legendX = [408, 465, 522];

export default function App() {
  return (
    <div style={{ position: "absolute", left: 0, top: 0, width: 702, height: 960, background: "#fff", overflow: "hidden" }}>
      <ChartBox left={0} top={0} width={280} height={200} build={buildVenn} />
      <ChartBox left={270} top={10} width={210} height={216} build={() => buildVolcano(0)} />
      <ChartBox left={480} top={10} width={222} height={216} build={() => buildVolcano(1)} />
      <ChartBox left={0} top={225} width={350} height={299} build={buildGO1} />
      <ChartBox left={350} top={225} width={352} height={294} build={buildGO3} />
      <ChartBox left={0} top={525} width={350} height={250} build={buildRich} />
      <ChartBox left={350} top={525} width={352} height={250} build={buildKegg} />
      <ChartBox left={0} top={780} width={640} height={180} build={buildHeat} />
      <ChartBox left={640} top={785} width={62} height={175} build={buildHeatBar} />
      <div style={{ position: "absolute", left: 102, top: 6, width: 100, textAlign: "center", font: `bold 16px ${SERIF}`, lineHeight: "18px", color: "#111" }}>DEGs</div>
      {letters.map(([t, x, y]) => (
        <div key={t} style={{ position: "absolute", left: x, top: y, font: `bold 18px ${SERIF}`, lineHeight: "18px", color: "#111" }}>{t}</div>
      ))}
      {volcanoClasses.map((c, i) => (
        <React.Fragment key={c}>
          <div style={{ position: "absolute", left: legendX[i], top: 4, width: 8, height: 8, borderRadius: 4, background: volcColors[i] }} />
          <div style={{ position: "absolute", left: legendX[i] + 12, top: 2, font: `bold 9.5px ${SERIF}`, lineHeight: "12px", color: volcColors[i] }}>{c}</div>
        </React.Fragment>
      ))}
    </div>
  );
}
